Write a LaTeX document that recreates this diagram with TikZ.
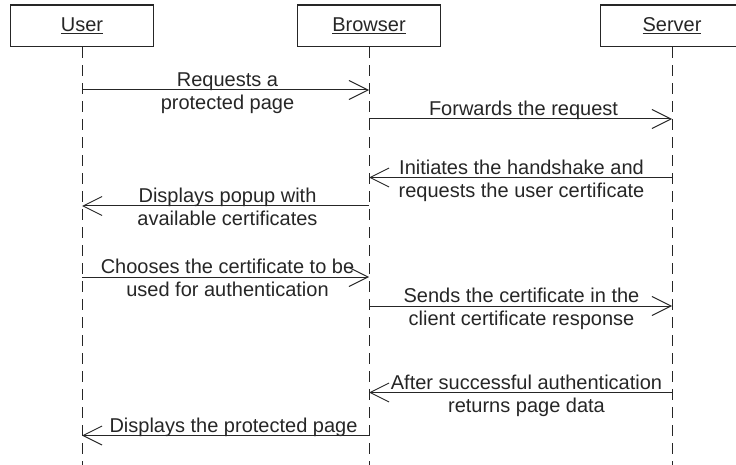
\documentclass[tikz,border=0pt]{standalone}
\usepackage{fontspec}
\setmainfont{Liberation Sans}
\usetikzlibrary{arrows.meta}
\definecolor{ink}{gray}{0.15}
\begin{document}
\begin{tikzpicture}[x=1pt,y=-1pt,
  font=\fontsize{20}{23}\selectfont,
  actor/.style={draw=ink, line width=1.3pt, minimum width=143pt, minimum height=41.5pt,
    inner sep=0pt, text=ink},
  lifeline/.style={draw=ink, line width=1pt, dash pattern=on 11pt off 7pt},
  msg/.style={draw=ink, line width=1pt,
    -{Straight Barb[length=19pt,width=19pt,line width=1pt]}},
  lbl/.style={text=ink, align=center, anchor=base, inner sep=0pt},
  % one-line label: baseline just above the arrow
  above1/.style={lbl, yshift=3.5pt},
  % two-line label: the arrow runs between the lines
  above2/.style={lbl, yshift=-19.5pt}]
\useasboundingbox (0,0) rectangle (736,465);
\clip (0,0) rectangle (736,465);

% participants
\node[actor] (user)    at (82,25.7)  {\underline{User}};
\node[actor] (browser) at (369,25.7) {\underline{Browser}};
\node[actor] (server)  at (672,25.7) {\underline{Server}};

% lifelines
\coordinate (userEnd)    at (user.south |- 0,466);
\coordinate (browserEnd) at (browser.south |- 0,466);
\coordinate (serverEnd)  at (server.south |- 0,466);
\draw[lifeline] (user) -- (userEnd);
\draw[lifeline] (browser) -- (browserEnd);
\draw[lifeline] (server) -- (serverEnd);

% message end points on the lifelines
\coordinate (u1) at (user |- 0,90);     \coordinate (b1) at (browser |- 0,90);
\coordinate (b2) at (browser |- 0,119); \coordinate (s2) at (server |- 0,119);
\coordinate (s3) at (server |- 0,177.5);\coordinate (b3) at (browser |- 0,177.5);
\coordinate (b4) at (browser |- 0,206); \coordinate (u4) at (user |- 0,206);
\coordinate (u5) at (user |- 0,277);    \coordinate (b5) at (browser |- 0,277);
\coordinate (b6) at (browser |- 0,306); \coordinate (s6) at (server |- 0,306);
\coordinate (s7) at (server |- 0,392.5);\coordinate (b7) at (browser |- 0,392.5);
\coordinate (b8) at (browser |- 0,435.5);\coordinate (u8) at (user |- 0,435.5);

% messages
\draw[msg] (u1) -- (b1) node[midway, above2, xshift=2pt] (m1) {Requests a\\protected page};
\draw[msg] (b2) -- (s2) node[midway, above1, xshift=3pt] (m2) {Forwards the request};
\draw[msg] (s3) -- (b3) node[midway, above2, xshift=1pt] (m3) {Initiates the handshake and\\requests the user certificate};
\draw[msg] (b4) -- (u4) node[midway, above2, xshift=2pt] (m4) {Displays popup with\\available certificates};
\draw[msg] (u5) -- (b5) node[midway, above2, xshift=2pt] (m5) {Chooses the certificate to be\\used for authentication};
\draw[msg] (b6) -- (s6) node[midway, above2, xshift=1pt] (m6) {Sends the certificate in the\\client certificate response};
\draw[msg] (s7) -- (b7) node[midway, above2, xshift=6pt] (m7) {After successful authentication\\returns page data};
\draw[msg] (b8) -- (u8) node[midway, above1, xshift=8pt] (m8) {Displays the protected page};
\end{tikzpicture}
\end{document}
